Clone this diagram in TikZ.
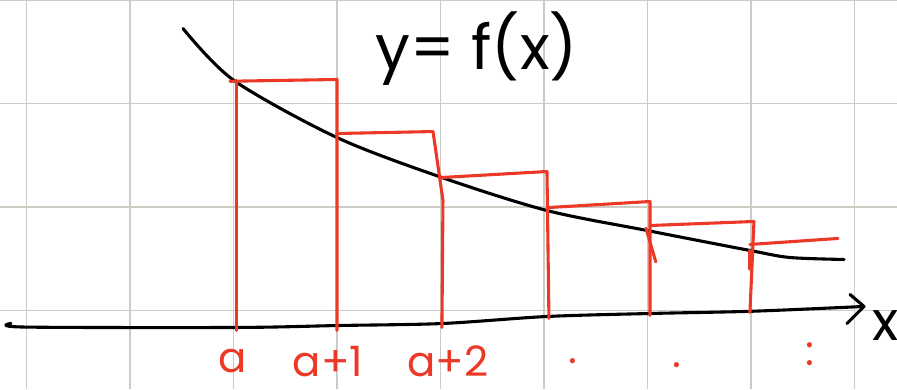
\documentclass[tikz,border=0pt]{standalone}
\usepackage{fontspec}
\setmainfont{Poppins}
\definecolor{gridgray}{RGB}{206,203,196}
\definecolor{inkred}{RGB}{236,56,38}
\tikzset{
  gridline/.style={gridgray, line width=0.35pt},
  ink/.style={black, line width=0.85pt, line cap=round, line join=round},
  redink/.style={inkred, line width=0.85pt, line cap=round, line join=round},
  lbl/.style={inkred, font=\fontsize{11.5}{13}\selectfont, inner sep=0pt}
}

\begin{document}
\begin{tikzpicture}
				%%%%% START %%%%%
				\useasboundingbox (-0.256,-0.763) rectangle (8.411,3.0);
				\draw[gridline] (-0.256,-0.763) grid (8.411,3.0);
				
				% curve y = f(x)
				\draw[ink] plot[smooth] coordinates {(1.512,2.725) (2.005,2.222) (3.0,1.671) (4.014,1.285) (5.029,0.966) (5.995,0.773) (6.99,0.58) (7.377,0.512) (7.899,0.493)};
				\node[font=\fontsize{17}{20}\selectfont, inner sep=0pt] (title) at (4.35,2.53) {y= f(x)};
				
				% x axis
				\draw[ink] plot[smooth, tension=0.5] coordinates {(-0.15,-0.125) (-0.02,-0.16) (2.034,-0.164) (3.019,-0.145) (4.014,-0.126) (5.029,-0.058) (6.024,-0.029) (7.019,-0.007) (8.092,0.039)};
				\coordinate (tip) at (8.092,0.039);
				\draw[ink] (7.957,0.155) -- (tip) -- (7.928,-0.126);
				\node[font=\fontsize{15}{18}\selectfont, inner sep=0pt] (xlbl) at (8.3,-0.15) {x};
				
				% upper rectangles
				\draw[redink] (2.032,-0.193) -- (2.032,2.222);
				\draw[redink] (1.966,2.215) -- (3.0,2.232) -- (3.0,-0.193);
				\draw[redink] (3.0,1.710) -- (3.928,1.729) -- (4.024,1.063) -- (4.014,-0.164);
				\draw[redink] (4.014,1.285) -- (5.029,1.343) -- (5.048,-0.077);
				\draw[redink] (5.048,0.995) -- (6.024,1.053) -- (6.024,-0.048);
				\draw[redink] (5.985,0.795) -- (6.08,0.47);
				\draw[redink] (6.024,0.821) -- (7.029,0.860) -- (6.990,-0.019);
				\draw[redink] (6.99,0.58) -- (6.99,0.40);
				\draw[redink] (6.990,0.638) -- (7.841,0.696);
				
				% labels
				\node[lbl] (la) at (1.995,-0.49) {a};
				\node[lbl] (la1) at (2.913,-0.49) {a+1};
				\node[lbl] (la2) at (4.072,-0.49) {a+2};
				\node[lbl] (ld1) at (5.28,-0.49) {.};
				\node[lbl] (ld2) at (6.28,-0.53) {.};
				\node[lbl] (ld3) at (7.57,-0.42) {:};
				%%%%% END %%%%%
\end{tikzpicture}
\end{document}
